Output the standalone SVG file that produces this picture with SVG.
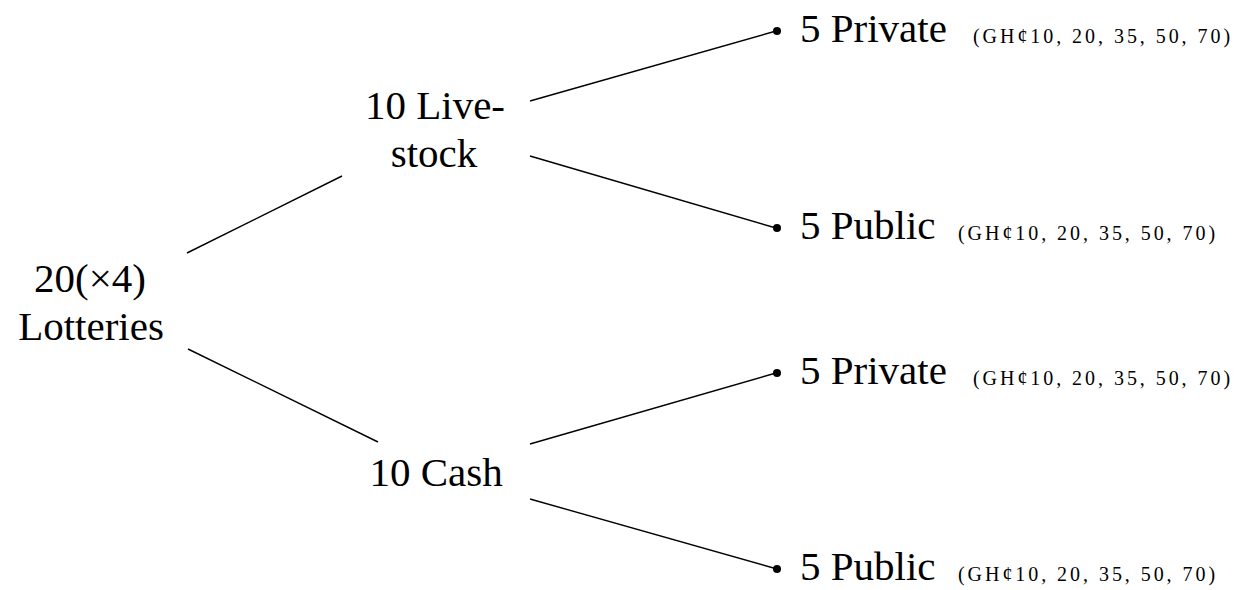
<svg xmlns="http://www.w3.org/2000/svg" width="1235" height="590" viewBox="0 0 1235 590">
<style>
.edge{stroke:#000;stroke-width:1.4;fill:none}
.dot{fill:#000}
</style>
<rect width="1235" height="590" fill="#fff"/>
<g id="connectors">
<line class="edge" x1="187" y1="253" x2="342" y2="176"/>
<line class="edge" x1="188" y1="349" x2="378" y2="442"/>
<line class="edge" x1="530" y1="101" x2="776" y2="31"/>
<line class="edge" x1="530" y1="156" x2="776" y2="228"/>
<line class="edge" x1="530" y1="444" x2="776" y2="373"/>
<line class="edge" x1="530" y1="499" x2="777" y2="569"/>
</g>
<g id="root">
<text font-family="Liberation Serif" font-size="41" text-anchor="middle" x="90" y="292">20(×4)</text>
<text font-family="Liberation Serif" font-size="41" text-anchor="middle" x="91" y="340">Lotteries</text>
</g>
<g id="livestock">
<text font-family="Liberation Serif" font-size="41" text-anchor="middle" x="435" y="119">10 Live-</text>
<text font-family="Liberation Serif" font-size="41" text-anchor="middle" x="434" y="167">stock</text>
</g>
<g id="cash">
<text font-family="Liberation Serif" font-size="41" text-anchor="middle" x="436" y="486">10 Cash</text>
</g>
<g id="livestock-private">
<circle class="dot" cx="777" cy="31" r="4"/>
<text font-family="Liberation Serif" font-size="41" x="800" y="42">5 Private</text>
<text font-family="Liberation Serif" font-size="20" y="43" x="973 982.6 1000 1017.4 1030.3 1043.3 1056.2 1064.2 1072.1 1085.1 1098 1106 1113.9 1126.9 1139.8 1147.8 1155.7 1168.7 1181.6 1189.6 1197.5 1210.5 1223.4">(GH¢10, 20, 35, 50, 70)</text>
</g>
<g id="livestock-public">
<circle class="dot" cx="777" cy="228" r="4"/>
<text font-family="Liberation Serif" font-size="41" x="800" y="239">5 Public</text>
<text font-family="Liberation Serif" font-size="20" y="240" x="958 967.6 985 1002.4 1015.3 1028.3 1041.2 1049.2 1057.1 1070.1 1083 1091 1098.9 1111.9 1124.8 1132.8 1140.7 1153.7 1166.6 1174.6 1182.5 1195.5 1208.4">(GH¢10, 20, 35, 50, 70)</text>
</g>
<g id="cash-private">
<circle class="dot" cx="777" cy="373" r="4"/>
<text font-family="Liberation Serif" font-size="41" x="800" y="384">5 Private</text>
<text font-family="Liberation Serif" font-size="20" y="385" x="973 982.6 1000 1017.4 1030.3 1043.3 1056.2 1064.2 1072.1 1085.1 1098 1106 1113.9 1126.9 1139.8 1147.8 1155.7 1168.7 1181.6 1189.6 1197.5 1210.5 1223.4">(GH¢10, 20, 35, 50, 70)</text>
</g>
<g id="cash-public">
<circle class="dot" cx="777" cy="569" r="4"/>
<text font-family="Liberation Serif" font-size="41" x="800" y="580">5 Public</text>
<text font-family="Liberation Serif" font-size="20" y="581" x="958 967.6 985 1002.4 1015.3 1028.3 1041.2 1049.2 1057.1 1070.1 1083 1091 1098.9 1111.9 1124.8 1132.8 1140.7 1153.7 1166.6 1174.6 1182.5 1195.5 1208.4">(GH¢10, 20, 35, 50, 70)</text>
</g>
</svg>
